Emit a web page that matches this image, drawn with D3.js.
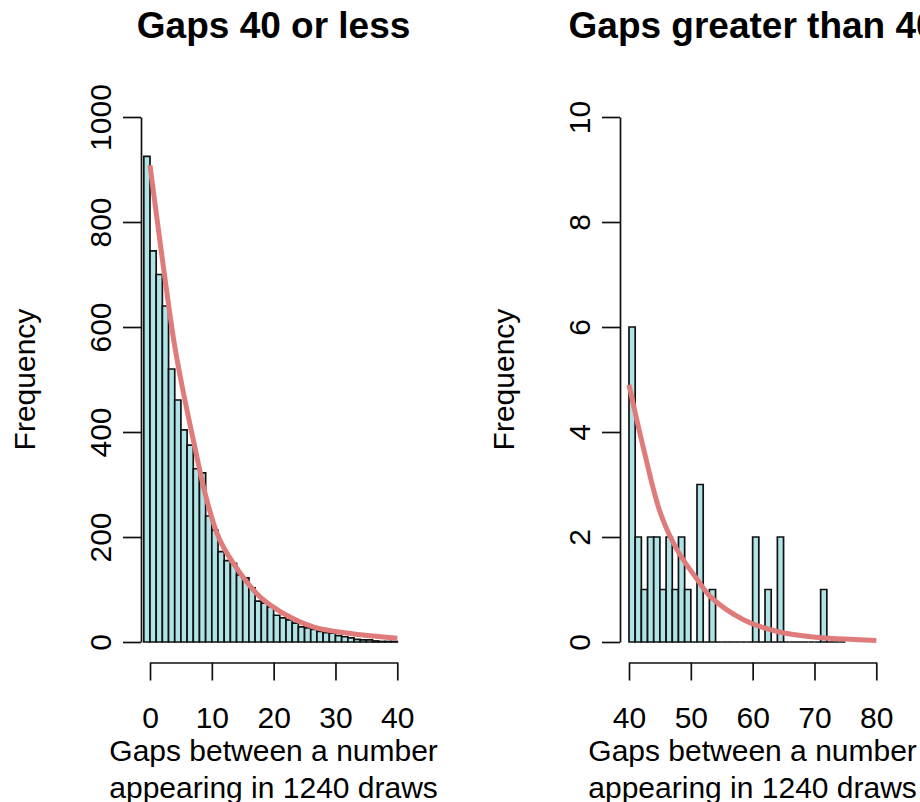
<!DOCTYPE html>
<html>
<head>
<meta charset="utf-8">
<script src="https://cdn.jsdelivr.net/npm/d3@7"></script>
<style>
  body { margin: 0; background: #fff; }
  text { font-family: "Liberation Sans", Arial, sans-serif; fill: #000; }
</style>
</head>
<body>
<div id="chart"></div>
<script>
const width = 920;
const height = 802;

// left panel: gaps 0..40, one bar per gap value, bins (k-1, k]
const leftBinStart = -1;
const leftCounts = [925, 745, 700, 640, 520, 461, 404, 375, 330, 322,
    240, 213, 172, 155, 150, 128, 122, 103, 78, 74,
    67, 51, 46, 42, 36, 29, 27, 24, 20, 18,
    17, 12, 10, 8, 5, 4, 4, 2, 1, 1, 1];
// expected-frequency curve
const leftCurveX = [0, 3.8, 4.9, 7, 9.2, 11.3, 14.6, 17.8, 22.1, 26.4, 31.8, 40];
const leftCurveY = [908, 578, 505, 385, 270, 194, 131, 86, 51, 29, 17, 7];
const leftXTicks = [0, 10, 20, 30, 40];
const leftYTicks = [0, 200, 400, 600, 800, 1000];

// right panel: gaps above 40
const rightBinStart = 40;
const rightCounts = [6, 2, 1, 2, 2, 1, 2, 1, 2, 1,
    0, 3, 0, 1, 0, 0, 0, 0, 0, 0,
    2, 0, 1, 0, 2, 0, 0, 0, 0, 0,
    0, 1, 0, 0, 0];
const rightCurveX = [40, 42.4, 45.1, 47.8, 51.1, 53.2, 58.6, 64, 69.4, 80];
const rightCurveY = [4.9, 3.66, 2.45, 1.75, 1.18, 0.86, 0.42, 0.2, 0.1, 0.03];
const rightXTicks = [40, 50, 60, 70, 80];
const rightYTicks = [0, 2, 4, 6, 8, 10];

const svg = d3.select("#chart")
    .append("svg")
    .attr("width", width)
    .attr("height", height);

function drawPanel(p) {
    const g = svg.append("g");
    const x = d3.scaleLinear().domain(p.xDomain).range([p.left + 9, p.left + 9 + 247.3]);
    const y = d3.scaleLinear().domain(p.yDomain).range([642, 117]);
    const center = p.left + 9 + 123.6;

    // bars, drawn as paths so empty bins still show as a line
    g.selectAll("path.bar")
        .data(p.counts)
        .enter().append("path")
        .attr("class", "bar")
        .attr("d", (d, i) => {
            const x0 = x(p.binStart + i), x1 = x(p.binStart + i + 1);
            return `M${x0},${y(0)}V${y(d)}H${x1}V${y(0)}Z`;
        })
        .attr("fill", "#b0e3e6")
        .attr("stroke", "#111")
        .attr("stroke-width", 1.7);

    const pts = p.curveX.map((v, i) => [v, p.curveY[i]]);
    g.append("path")
        .datum(pts)
        .attr("fill", "none")
        .attr("stroke", "#e07b7b")
        .attr("stroke-width", 5)
        .attr("d", d3.line().x(d => x(d[0])).y(d => y(d[1])).curve(d3.curveCatmullRom.alpha(0.5)));

    // y axis
    const ya = g.append("g")
        .attr("transform", `translate(${p.left},0)`)
        .call(d3.axisLeft(y).tickValues(p.yTicks).tickFormat(d3.format("d")).tickSize(18).tickSizeOuter(0));
    ya.selectAll("text")
        .attr("x", null).attr("dy", null)
        .attr("transform", "translate(-30,0) rotate(-90)")
        .attr("text-anchor", "middle")
        .attr("font-size", 30)
        .attr("font-family", "Liberation Sans, Arial, sans-serif");

    // x axis
    const xa = g.append("g")
        .attr("transform", "translate(0,662.5)")
        .call(d3.axisBottom(x).tickValues(p.xTicks).tickFormat(d3.format("d")).tickSize(18).tickSizeOuter(0));
    xa.selectAll("text")
        .attr("y", 65.5).attr("dy", null)
        .attr("font-size", 30)
        .attr("font-family", "Liberation Sans, Arial, sans-serif");

    [ya, xa].forEach(a => {
        a.selectAll("line,path").attr("stroke", "#111").attr("stroke-width", 1.7);
    });

    g.append("text")
        .attr("x", center).attr("y", 38)
        .attr("text-anchor", "middle")
        .attr("font-size", 37)
        .attr("font-weight", "bold")
        .text(p.title);

    g.append("text")
        .attr("x", center).attr("y", 761)
        .attr("text-anchor", "middle")
        .attr("font-size", 30)
        .text("Gaps between a number");
    g.append("text")
        .attr("x", center).attr("y", 798)
        .attr("text-anchor", "middle")
        .attr("font-size", 30)
        .text("appearing in 1240 draws");

    g.append("text")
        .attr("transform", `translate(${p.left - 106},379.5) rotate(-90)`)
        .attr("text-anchor", "middle")
        .attr("font-size", 30)
        .text("Frequency");
}

drawPanel({
    left: 141, title: "Gaps 40 or less",
    xDomain: [0, 40], yDomain: [0, 1000],
    binStart: leftBinStart, counts: leftCounts,
    curveX: leftCurveX, curveY: leftCurveY,
    xTicks: leftXTicks, yTicks: leftYTicks
});

drawPanel({
    left: 620, title: "Gaps greater than 40",
    xDomain: [40, 80], yDomain: [0, 10],
    binStart: rightBinStart, counts: rightCounts,
    curveX: rightCurveX, curveY: rightCurveY,
    xTicks: rightXTicks, yTicks: rightYTicks
});
</script>
</body>
</html>
